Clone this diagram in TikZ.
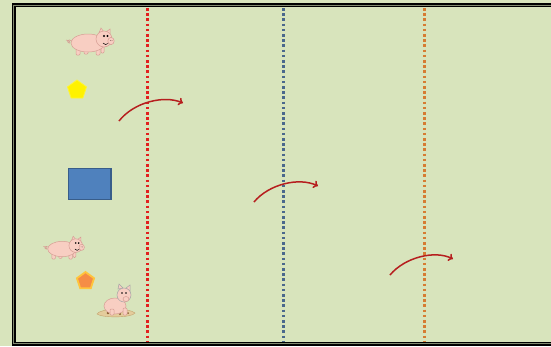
\documentclass[tikz,border=0pt]{standalone}
\usetikzlibrary{shapes.geometric,arrows.meta}
\definecolor{field}{RGB}{216,228,188}
\definecolor{pigpink}{RGB}{248,206,194}
\definecolor{pigline}{RGB}{214,158,148}
\definecolor{lineRed}{RGB}{226,32,30}
\definecolor{lineBlue}{RGB}{74,104,140}
\definecolor{lineOrange}{RGB}{214,124,50}
\definecolor{moveRed}{RGB}{182,30,30}
\definecolor{boxBlue}{RGB}{79,129,189}
\definecolor{boxEdge}{RGB}{56,93,138}
\definecolor{mud}{RGB}{228,204,156}
\definecolor{mudEdge}{RGB}{196,164,110}

\tikzset{
  fence/.style={line width=3pt, dash pattern=on 2.6pt off 2.6pt},
  hop/.style={moveRed, line width=1.5pt, -{To[length=4.5pt,width=8pt]}},
  skin/.style={fill=pigpink, draw=pigline, line width=0.5pt},
  % walking pig, body centre at the origin, facing right
  pig/.pic={
    % tail
    \draw[pigline, line width=0.6pt] (-17,-2) .. controls (-21,-5) and (-23,-1) .. (-20,0)
      .. controls (-18,1) and (-19,-3) .. (-23,-3);
    % legs
    \path[skin, rounded corners=1pt] (-13,4) rectangle (-9,12);
    \path[skin, rounded corners=1pt] (-5,5) rectangle (-1,11);
    \path[skin, rounded corners=1pt] (7,4) rectangle (11,12);
    \path[skin, rounded corners=1pt] (12,3) rectangle (15,10);
    % body and head
    \path[skin] (-1,0) ellipse [x radius=17, y radius=9];
    \path[skin] (10,-10) -- (12,-15) -- (15,-11) -- cycle;
    \path[skin] (17,-11) -- (21,-14) -- (21,-8) -- cycle;
    \path[skin] (15,-4) circle [radius=8];
    \path[skin] (22,-2) ellipse [x radius=3.2, y radius=3.6];
    \fill[black] (15,-7) circle [radius=1.1] (18.5,-7) circle [radius=1.1];
    \fill[pigline!70!black] (21.3,-2.5) circle [radius=0.5] (23,-2.5) circle [radius=0.5];
    \draw[black, line width=0.5pt] (14,0) .. controls (15.5,2) and (17.5,2) .. (19,0.5);
  },
  % sitting pig on a patch of mud
  sitpig/.pic={
    % mud
    \path[fill=mud, draw=mudEdge, line width=0.4pt] (-19,9) .. controls (-16,3) and (14,3) .. (19,8)
      .. controls (16,13) and (-14,13) .. cycle;
    \fill[brown!70!black] (-8,8) circle [radius=1.3] (4,9) circle [radius=1.1] (12,8) circle [radius=1];
    % body
    \path[skin] (-1,1) ellipse [x radius=11, y radius=8];
    \path[skin, rounded corners=1pt] (-6,4) rectangle (-2,10);
    \path[skin, rounded corners=1pt] (7,3) rectangle (11,10);
    % head
    \path[fill=pigpink, draw=gray!70, line width=0.5pt] (2,-16) -- (3,-21) -- (7,-17) -- cycle;
    \path[fill=pigpink, draw=gray!70, line width=0.5pt] (10,-17) -- (14,-20) -- (14,-14) -- cycle;
    \path[fill=pigpink, draw=gray!70, line width=0.5pt] (8,-10) circle [radius=7];
    \path[skin] (10,-6) ellipse [x radius=3, y radius=2.5];
    \fill[black] (6,-12) circle [radius=0.9] (10,-12) circle [radius=0.9];
  }
}

\begin{document}
\begin{tikzpicture}[x=1pt, y=-1pt]
  \useasboundingbox (0,0) rectangle (551,346);
  \fill[field] (0,0) rectangle (551,346);

  % field border
  \draw[black, line width=1.6pt, double={rgb,255:red,130;green,138;blue,112}, double distance=0.8pt]
    (13.5,5.3) rectangle (570,343.5);

  % fences
  \draw[fence, lineRed] (147,8) -- (147,342);
  \draw[fence, lineBlue] (283,8) -- (283,342);
  \draw[fence, lineOrange] (424,8) -- (424,342);

  % pieces on the left
  \node[regular polygon, regular polygon sides=5, minimum size=20pt, inner sep=0pt,
        fill=yellow, draw=yellow!80!white, line width=0.8pt] (star) at (77,90) {};
  \node[regular polygon, regular polygon sides=5, minimum size=18pt, inner sep=0pt,
        fill={rgb,255:red,245;green,140;blue,70}, draw={rgb,255:red,255;green,196;blue,60},
        line width=1.8pt] (gem) at (85.5,281) {};
  \draw[fill=boxBlue, draw=boxEdge, line width=1.4pt] (68.5,168.5) rectangle (111,199.5);

  \pic at (89,43) {pig};
  \pic[scale=0.85] at (63,249) {pig};
  \pic at (116,305) {sitpig};

  % moves across the fences
  \coordinate (hopA) at (119,121);
  \coordinate (hopAend) at (183,103);
  \coordinate (hopB) at (254,202);
  \coordinate (hopBend) at (318,186);
  \coordinate (hopC) at (390,275);
  \coordinate (hopCend) at (453,259);
  \draw[hop] (hopA) .. controls (134,102) and (164,95) .. (hopAend);
  \draw[hop] (hopB) .. controls (269,184) and (299,177) .. (hopBend);
  \draw[hop] (hopC) .. controls (405,257) and (435,250) .. (hopCend);
\end{tikzpicture}
\end{document}
